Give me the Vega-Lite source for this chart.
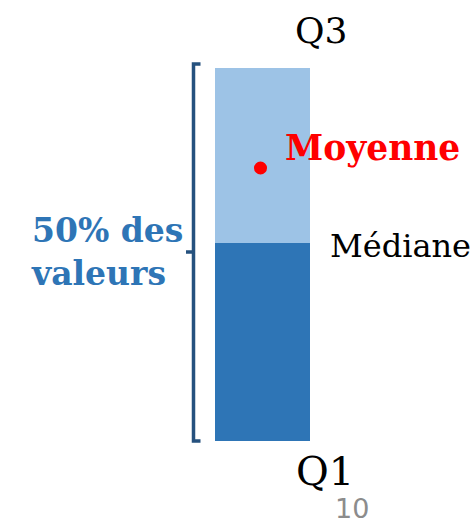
{
  "$schema": "https://vega.github.io/schema/vega-lite/v6.json",
  "width": 473,
  "height": 523,
  "padding": 0,
  "autosize": {"type": "none"},
  "background": "white",
  "config": {"view": {"stroke": null}},
  "layer": [
    {
      "data": {"values": [
        {"part": "Q1-Médiane", "x0": 215, "x1": 310, "top": 243, "bottom": 441},
        {"part": "Médiane-Q3", "x0": 215, "x1": 310, "top": 68, "bottom": 243}
      ]},
      "mark": {"type": "rect"},
      "encoding": {
        "x": {"field": "x0", "type": "quantitative", "scale": {"domain": [0, 473], "nice": false, "zero": false}, "axis": null},
        "x2": {"field": "x1"},
        "y": {"field": "top", "type": "quantitative", "scale": {"domain": [0, 523], "nice": false, "zero": false, "reverse": true}, "axis": null},
        "y2": {"field": "bottom"},
        "color": {"field": "part", "type": "nominal", "scale": {"domain": ["Q1-Médiane", "Médiane-Q3"], "range": ["#2E75B6", "#9DC3E6"]}, "legend": null}
      }
    },
    {
      "data": {"values": [
        {"k": 1, "bx": 200.5, "by": 64},
        {"k": 2, "bx": 193.5, "by": 64},
        {"k": 3, "bx": 193.5, "by": 441},
        {"k": 4, "bx": 200.5, "by": 441}
      ]},
      "mark": {"type": "line", "color": "#25517E", "strokeWidth": 3.5, "strokeJoin": "miter", "strokeCap": "butt"},
      "encoding": {
        "x": {"field": "bx", "type": "quantitative"},
        "y": {"field": "by", "type": "quantitative"},
        "order": {"field": "k"}
      }
    },
    {
      "data": {"values": [{"nx0": 186, "nx1": 193, "ny": 252}]},
      "mark": {"type": "rule", "color": "#25517E", "strokeWidth": 3.5},
      "encoding": {
        "x": {"field": "nx0", "type": "quantitative"},
        "x2": {"field": "nx1"},
        "y": {"field": "ny", "type": "quantitative"}
      }
    },
    {
      "data": {"values": [{"mx": 260.5, "my": 168}]},
      "mark": {"type": "circle", "color": "red", "opacity": 1, "size": 170},
      "encoding": {
        "x": {"field": "mx", "type": "quantitative"},
        "y": {"field": "my", "type": "quantitative"}
      }
    },
    {
      "data": {"values": [{"tx": 285, "ty": 160, "label": "Moyenne"}]},
      "mark": {"type": "text", "align": "left", "baseline": "alphabetic", "font": "DejaVu Serif", "fontWeight": "bold", "fontSize": 34.5, "color": "#FF0000"},
      "encoding": {
        "x": {"field": "tx", "type": "quantitative"},
        "y": {"field": "ty", "type": "quantitative"},
        "text": {"field": "label"}
      }
    },
    {
      "data": {"values": [
        {"tx": 330, "ty": 257, "label": "Médiane"},
        {"tx": 295, "ty": 43, "label": "Q3"},
        {"tx": 296, "ty": 485, "label": "Q1"}
      ]},
      "mark": {"type": "text", "align": "left", "baseline": "alphabetic", "font": "DejaVu Serif", "fontSize": 33, "color": "#000000"},
      "encoding": {
        "x": {"field": "tx", "type": "quantitative"},
        "y": {"field": "ty", "type": "quantitative"},
        "text": {"field": "label"},
        "size": {"field": "label", "type": "nominal", "scale": {"domain": ["Médiane", "Q3", "Q1"], "range": [32, 40, 40]}, "legend": null}
      }
    },
    {
      "data": {"values": [{"tx": 32, "ty": 242, "label": ["50% des", "valeurs"]}]},
      "mark": {"type": "text", "align": "left", "baseline": "alphabetic", "font": "DejaVu Serif", "fontWeight": "bold", "fontSize": 33, "lineHeight": 43, "color": "#2E75B6"},
      "encoding": {
        "x": {"field": "tx", "type": "quantitative"},
        "y": {"field": "ty", "type": "quantitative"},
        "text": {"field": "label"}
      }
    },
    {
      "data": {"values": [{"tx": 335, "ty": 518, "label": "10"}]},
      "mark": {"type": "text", "align": "left", "baseline": "alphabetic", "font": "DejaVu Sans", "fontSize": 27, "color": "#8C8C8C"},
      "encoding": {
        "x": {"field": "tx", "type": "quantitative"},
        "y": {"field": "ty", "type": "quantitative"},
        "text": {"field": "label"}
      }
    }
  ]
}
